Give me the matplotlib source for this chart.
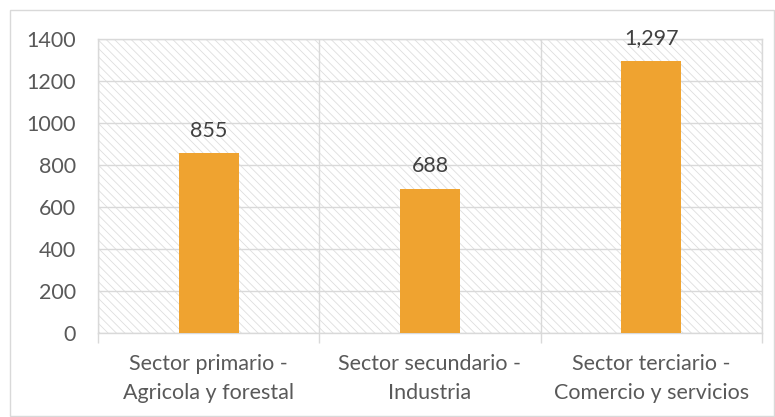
import numpy as np
import matplotlib.pyplot as plt
import matplotlib as mpl
from matplotlib.patches import Rectangle

mpl.rcParams['font.family'] = ['Lato', 'DejaVu Sans']
mpl.rcParams['hatch.linewidth'] = 0.6
mpl.rcParams['hatch.color'] = '#dedede'

# Sector data
sectores = ['Sector primario -\nAgricola y forestal',
            'Sector secundario -\nIndustria',
            'Sector terciario -\nComercio y servicios']
valores = [855, 688, 1297]
yticks = [0, 200, 400, 600, 800, 1000, 1200, 1400]

grid_c = '#d9d9d9'
text_c = '#595959'

fig = plt.figure(figsize=(7.75, 4.17), dpi=100)
ax = fig.add_axes([98/775, 1 - 333/417, (762 - 98)/775, (333 - 39)/417])

# outer chart frame
fig.patches.append(Rectangle((10/775, 1/417), 764/775, 406/417, transform=fig.transFigure,
                             fill=False, edgecolor=grid_c, linewidth=1.0))

# hatched plot area
ax.set_facecolor('white')
ax.add_patch(Rectangle((0, 0), 1, 1, transform=ax.transAxes, facecolor='white',
                       edgecolor='#dedede', hatch='\\\\\\\\', linewidth=0, zorder=0))

x = np.arange(len(sectores))
bars = ax.bar(x, valores, width=0.27, color='#efa330', zorder=3)

for xi, v in zip(x, valores):
    ax.annotate(f'{v:,}', (xi, v), xytext=(0, 9), textcoords='offset points',
                ha='center', va='bottom', fontsize=15.5, color='#404040')

ax.set_xlim(-0.5, len(sectores) - 0.5)
ax.set_ylim(0, 1400)
ax.set_yticks(yticks)
ax.yaxis.grid(True, color=grid_c, linewidth=1.0, zorder=1)

# category boundaries as vertical lines with outward ticks
bounds = np.arange(len(sectores) + 1) - 0.5
for b in bounds:
    ax.axvline(b, color=grid_c, linewidth=1.0, zorder=1)
ax.set_xticks(bounds)
ax.set_xticklabels([])
ax.set_xticks(x, minor=True)
ax.set_xticklabels(sectores, minor=True, fontsize=15.5, color=text_c, linespacing=1.55)
ax.tick_params(axis='x', which='major', length=7, color=grid_c, width=1.0)
ax.tick_params(axis='x', which='minor', length=0, pad=15)
ax.tick_params(axis='y', length=0, labelsize=15.5, labelcolor=text_c, pad=16)

for s in ax.spines.values():
    s.set_color(grid_c)
    s.set_linewidth(1.0)

plt.savefig('out.png', dpi=100)
